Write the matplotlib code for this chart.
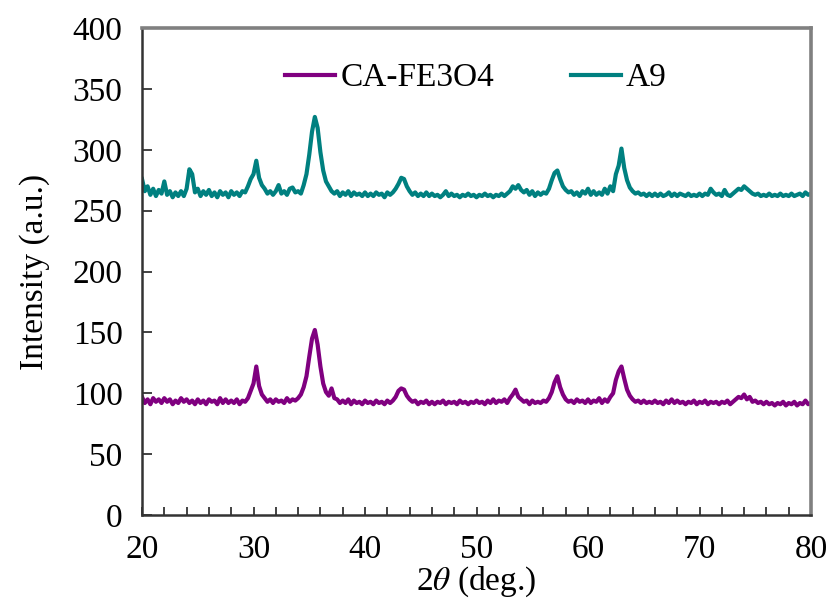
import numpy as np
import matplotlib
matplotlib.use("Agg")
import matplotlib.pyplot as plt
from matplotlib.ticker import MultipleLocator

plt.rcParams['font.family'] = ['Liberation Serif', 'DejaVu Serif']
plt.rcParams['mathtext.fontset'] = 'stix'

# 2theta from 20 to 80 deg, 0.25 deg step
two_theta = np.arange(241) * 0.25 + 20.0

a9 = [
    276, 266, 270, 263, 268, 262, 267, 264,
    274, 263, 266, 261, 265, 262, 266, 262,
    268, 284, 280, 265, 268, 262, 266, 263,
    267, 262, 265, 261, 266, 263, 265, 261,
    266, 263, 265, 262, 266, 265, 270, 276,
    280, 291, 277, 271, 268, 264, 266, 263,
    266, 271, 264, 266, 263, 268, 269, 265,
    266, 264, 271, 280, 296, 315, 327, 318,
    298, 283, 274, 270, 266, 264, 266, 262,
    265, 263, 266, 262, 265, 263, 264, 262,
    265, 262, 264, 262, 265, 263, 264, 261,
    265, 263, 265, 268, 272, 277, 276, 270,
    266, 263, 265, 262, 264, 262, 265, 262,
    264, 262, 263, 261, 263, 266, 262, 264,
    262, 263, 261, 263, 262, 264, 262, 263,
    261, 263, 262, 264, 262, 263, 261, 263,
    262, 264, 262, 264, 266, 270, 268, 271,
    267, 265, 267, 263, 266, 262, 265, 263,
    265, 264, 268, 275, 281, 283, 276, 270,
    267, 265, 266, 263, 265, 262, 266, 264,
    268, 263, 266, 263, 265, 263, 268, 264,
    270, 266, 280, 287, 301, 285, 275, 269,
    266, 264, 265, 263, 264, 262, 264, 262,
    264, 262, 264, 262, 263, 265, 262, 264,
    262, 264, 263, 262, 264, 262, 263, 262,
    264, 262, 264, 263, 268, 265, 263, 264,
    262, 267, 263, 262, 264, 266, 268, 267,
    270, 268, 266, 264, 263, 264, 262, 263,
    262, 264, 262, 263, 262, 264, 262, 263,
    262, 264, 262, 263, 264, 262, 265, 263,
    264,
]

ca_fe3o4 = [
    97, 92, 95, 91, 96, 93, 95, 92,
    96, 93, 95, 91, 94, 92, 96, 93,
    95, 92, 94, 91, 95, 92, 94, 91,
    95, 93, 94, 91, 96, 92, 95, 92,
    94, 92, 95, 91, 94, 93, 96, 102,
    108, 122, 106, 99, 96, 93, 95, 92,
    95, 93, 94, 92, 96, 93, 95, 94,
    96, 99, 105, 114, 130, 145, 152, 140,
    122, 108, 101, 98, 104, 96, 95, 92,
    94, 92, 95, 91, 94, 92, 93, 91,
    94, 92, 93, 91, 94, 92, 93, 91,
    94, 92, 94, 97, 102, 104, 103, 98,
    95, 93, 94, 91, 93, 92, 94, 91,
    93, 91, 93, 92, 94, 91, 93, 92,
    93, 91, 94, 92, 93, 91, 93, 92,
    94, 92, 93, 91, 94, 92, 95, 92,
    94, 93, 95, 92, 96, 99, 103, 97,
    95, 93, 94, 91, 94, 92, 93, 92,
    94, 93, 96, 101, 109, 114, 105, 99,
    95, 93, 94, 92, 95, 93, 94, 92,
    95, 92, 94, 93, 96, 92, 95, 93,
    97, 100, 111, 118, 122, 112, 103, 98,
    95, 93, 94, 92, 94, 92, 93, 92,
    94, 92, 93, 91, 94, 92, 95, 92,
    94, 92, 93, 91, 93, 92, 94, 91,
    93, 92, 94, 91, 93, 92, 93, 91,
    93, 92, 94, 91, 93, 95, 97, 96,
    99, 95, 97, 93, 94, 92, 93, 91,
    93, 91, 92, 90, 92, 91, 93, 90,
    92, 91, 93, 90, 92, 91, 94, 91,
    92,
]

fig = plt.figure(figsize=(8.29, 6.03), dpi=100)
ax = fig.add_axes([0.1713, 0.1459, 0.807, 0.8076])

ax.plot(two_theta, ca_fe3o4, color='#800080', lw=3.0, label='CA-FE3O4')
ax.plot(two_theta, a9, color='#008080', lw=3.0, label='A9')

ax.set_xlim(20, 80)
ax.set_ylim(0, 400)
ax.xaxis.set_major_locator(MultipleLocator(10))
ax.xaxis.set_minor_locator(MultipleLocator(2))
ax.yaxis.set_major_locator(MultipleLocator(50))

ax.tick_params(axis='both', which='both', direction='in', labelsize=24,
               color='#222222', width=1.2)
ax.tick_params(axis='x', which='both', length=6, pad=14)
ax.tick_params(axis='y', which='major', length=7, pad=14)

for side in ['left', 'bottom']:
    ax.spines[side].set_color('#333333')
    ax.spines[side].set_linewidth(1.8)
for side in ['top', 'right']:
    ax.spines[side].set_color('#808080')
    ax.spines[side].set_linewidth(2.6)

ax.set_ylabel('Intensity (a.u.)', fontsize=24, labelpad=16)
ax.set_xlabel('2$\\theta$ (deg.)', fontsize=24, labelpad=0)

ax.legend(loc='center', bbox_to_anchor=(0.499, 0.897), ncol=2, frameon=False,
          fontsize=24, handlelength=1.5, handletextpad=0.15, columnspacing=2.3)

fig.savefig('out.png', dpi=100)
